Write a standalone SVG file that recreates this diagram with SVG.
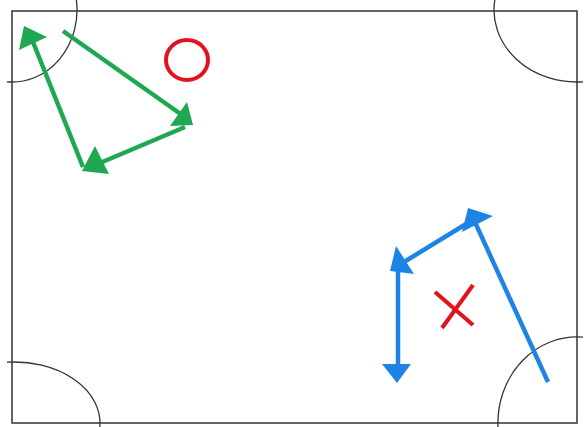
<svg xmlns="http://www.w3.org/2000/svg" width="584" height="427" viewBox="0 0 584 427">
<style>
.table{fill:#fff;stroke:#333;stroke-width:1.5}
.pocket{fill:none;stroke:#333;stroke-width:1.3}
.g{stroke:#1fa851;stroke-width:4.5;stroke-linecap:butt;fill:none}
.gh{fill:#1fa851}
.b{stroke:#1e84e3;stroke-width:4.5;fill:none}
.bh{fill:#1e84e3}
.r{stroke:#e3121c;stroke-width:4;fill:none}
</style>
<rect width="584" height="427" fill="#fff"/>
<g id="table">
<rect class="table" x="12" y="11" width="565" height="412"/>
<path class="pocket" d="M7,81.8 A65,72 0 0 0 76.4,0"/>
<path class="pocket" d="M494.8,0 A83,72 0 0 0 583,81.8"/>
<path class="pocket" d="M7,362.2 A86,61 0 0 1 99.8,427"/>
<path class="pocket" d="M498,427 A79,86 0 0 1 583,337.2"/>
</g>
<g id="circle-mark"><ellipse class="r" cx="187" cy="60" rx="21" ry="20"/></g>
<g id="x-mark"><line class="r" x1="435" y1="292" x2="473" y2="325"/><line class="r" x1="473" y1="285" x2="442" y2="328"/></g>
<g id="connectors">
<g id="green">
<line class="g" x1="63" y1="31" x2="182" y2="115"/>
<polygon class="gh" points="187,102 193,125 170,126"/>
<line class="g" x1="185" y1="127" x2="100" y2="163"/>
<polygon class="gh" points="95,146 109,174 82,171"/>
<line class="g" x1="83" y1="167" x2="33" y2="42"/>
<polygon class="gh" points="24,26 47,37 19,50"/>
</g>
<g id="blue">
<line class="b" x1="548" y1="382" x2="474" y2="220"/>
<line class="b" x1="404" y1="262" x2="466" y2="224"/>
<polygon class="bh" points="468,208 493,216 462,232"/>
<line class="b" x1="398" y1="366" x2="398" y2="262"/>
<polygon class="bh" points="396,246 390,271 414,274"/>
<polygon class="bh" points="382,364 411,364 397,383"/>
</g>
</g>
</svg>
